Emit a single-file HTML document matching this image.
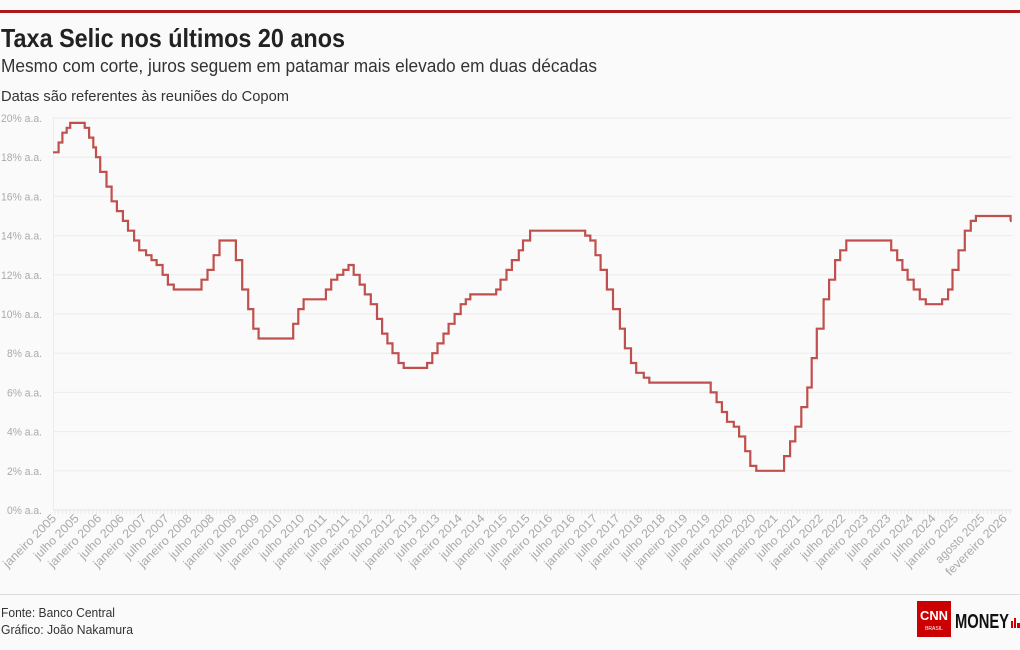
<!DOCTYPE html>
<html><head><meta charset="utf-8"><style>
html,body{margin:0;padding:0;background:#fafafa;}
svg{display:block;font-family:"Liberation Sans",sans-serif;}
</style></head><body>
<svg id="s" width="1020" height="650" xmlns="http://www.w3.org/2000/svg">
<rect width="1020" height="650" fill="#fafafa"/>
<rect x="0" y="10" width="1020" height="3" fill="#b0191b"/>
<text x="1" y="47" font-size="26" font-weight="bold" fill="#222" textLength="344" lengthAdjust="spacingAndGlyphs">Taxa Selic nos últimos 20 anos</text>
<text x="1" y="72" font-size="18" fill="#333" textLength="596" lengthAdjust="spacingAndGlyphs">Mesmo com corte, juros seguem em patamar mais elevado em duas décadas</text>
<text x="1" y="101" font-size="15" fill="#333" textLength="288" lengthAdjust="spacingAndGlyphs">Datas são referentes às reuniões do Copom</text>
<g id="g"></g>
<line x1="0" y1="594.5" x2="1020" y2="594.5" stroke="#ddd"/>
<text x="1" y="617" font-size="13" fill="#333" textLength="114" lengthAdjust="spacingAndGlyphs">Fonte: Banco Central</text>
<text x="1" y="634" font-size="13" fill="#333" textLength="132" lengthAdjust="spacingAndGlyphs">Gráfico: João Nakamura</text>
<rect x="917" y="601" width="34" height="36" fill="#cc0000"/>
<text x="934" y="620" font-size="13" font-weight="bold" fill="#fff" text-anchor="middle" textLength="28" lengthAdjust="spacingAndGlyphs">CNN</text>
<text x="934" y="630" font-size="5" fill="#fff" text-anchor="middle">BRASIL</text>
<text x="955" y="628" font-size="20" font-weight="bold" fill="#111" textLength="54" lengthAdjust="spacingAndGlyphs">MONEY</text>
<rect x="1011" y="621" width="2" height="7" fill="#cc0000"/><rect x="1014" y="618" width="2" height="10" fill="#cc0000"/><rect x="1017" y="623" width="3" height="5" fill="#cc0000"/>
</svg>
<script>
var g=document.getElementById('g'),h='';
function X(t){return 53+(t-2005)*45.1;}
function Y(v){return 510-v*19.6;}
for(var v=0;v<=20;v+=2){var y=Y(v);
 h+='<line x1="53" x2="1012" y1="'+y+'" y2="'+y+'" stroke="'+(v==0?'#e4e4e4':'#ececec')+'"/>';
 h+='<text x="42" y="'+(y+4)+'" font-size="11" fill="#aaa" text-anchor="end" textLength="'+(v>=10?41:35)+'" lengthAdjust="spacingAndGlyphs">'+v+'% a.a.</text>';}
h+='<line x1="53.5" x2="53.5" y1="118" y2="510" stroke="#ececec"/>';
for(var x=55;x<1012;x+=3.76)h+='<line x1="'+x+'" x2="'+x+'" y1="510" y2="514" stroke="#e8e8e8"/>';
var labs=[];for(var yr=2005;yr<=2025;yr++){labs.push([yr,'janeiro '+yr]);if(yr<2025)labs.push([yr+0.5,'julho '+yr]);}
labs.push([2025.58,'agosto 2025']);labs.push([2026.08,'fevereiro 2026']);
labs.forEach(function(l){var x=X(l[0]);var w=l[1].length*5.8;h+='<text transform="translate('+(x+4)+',519) rotate(-45)" font-size="12" fill="#aaa" text-anchor="end" textLength="'+w+'" lengthAdjust="spacingAndGlyphs">'+l[1]+'</text>';});
var d=[["2005-01-01",18.25],["2005-02-16",18.75],["2005-03-16",19.25],["2005-04-20",19.5],["2005-05-18",19.75],["2005-09-14",19.5],["2005-10-19",19],["2005-11-23",18.5],["2005-12-14",18],["2006-01-18",17.25],["2006-03-08",16.5],["2006-04-19",15.75],["2006-05-31",15.25],["2006-07-19",14.75],["2006-08-30",14.25],["2006-10-18",13.75],["2006-11-29",13.25],["2007-01-24",13],["2007-03-07",12.75],["2007-04-18",12.5],["2007-06-06",12],["2007-07-18",11.5],["2007-09-05",11.25],["2008-04-16",11.75],["2008-06-04",12.25],["2008-07-23",13],["2008-09-10",13.75],["2009-01-21",12.75],["2009-03-11",11.25],["2009-04-29",10.25],["2009-06-10",9.25],["2009-07-22",8.75],["2010-04-28",9.5],["2010-06-09",10.25],["2010-07-21",10.75],["2011-01-19",11.25],["2011-03-02",11.75],["2011-04-20",12],["2011-06-08",12.25],["2011-07-20",12.5],["2011-08-31",12],["2011-10-19",11.5],["2011-11-30",11],["2012-01-18",10.5],["2012-03-07",9.75],["2012-04-18",9],["2012-05-30",8.5],["2012-07-11",8],["2012-08-29",7.5],["2012-10-10",7.25],["2013-04-17",7.5],["2013-05-29",8],["2013-07-10",8.5],["2013-08-28",9],["2013-10-09",9.5],["2013-11-27",10],["2014-01-15",10.5],["2014-02-26",10.75],["2014-04-02",11],["2014-10-29",11.25],["2014-12-03",11.75],["2015-01-21",12.25],["2015-03-04",12.75],["2015-04-29",13.25],["2015-06-03",13.75],["2015-07-29",14.25],["2016-10-19",14],["2016-11-30",13.75],["2017-01-11",13],["2017-02-22",12.25],["2017-04-12",11.25],["2017-05-31",10.25],["2017-07-26",9.25],["2017-09-06",8.25],["2017-10-25",7.5],["2017-12-06",7],["2018-02-07",6.75],["2018-03-21",6.5],["2019-07-31",6],["2019-09-18",5.5],["2019-10-30",5],["2019-12-11",4.5],["2020-02-05",4.25],["2020-03-18",3.75],["2020-05-06",3],["2020-06-17",2.25],["2020-08-05",2],["2021-03-17",2.75],["2021-05-05",3.5],["2021-06-16",4.25],["2021-08-04",5.25],["2021-09-22",6.25],["2021-10-27",7.75],["2021-12-08",9.25],["2022-02-02",10.75],["2022-03-16",11.75],["2022-05-04",12.75],["2022-06-15",13.25],["2022-08-03",13.75],["2023-08-02",13.25],["2023-09-20",12.75],["2023-11-01",12.25],["2023-12-13",11.75],["2024-01-31",11.25],["2024-03-20",10.75],["2024-05-08",10.5],["2024-09-18",10.75],["2024-11-06",11.25],["2024-12-11",12.25],["2025-01-29",13.25],["2025-03-19",14.25],["2025-05-07",14.75],["2025-06-18",15],["2026-03-25",14.75]];
function T(s){var p=s.split('-');return +p[0]+((+p[1]-1)+(+p[2]-1)/30)/12;}
var p='';d.forEach(function(e,i){var x=X(T(e[0])).toFixed(1),y=Y(e[1]).toFixed(1);p+=(i?'H'+x+'V'+y:'M'+x+' '+y);});
p+='H1010';
h+='<path d="'+p+'" fill="none" stroke="#c0504d" stroke-width="2.2"/>';
g.innerHTML=h;
</script>
</body></html>
